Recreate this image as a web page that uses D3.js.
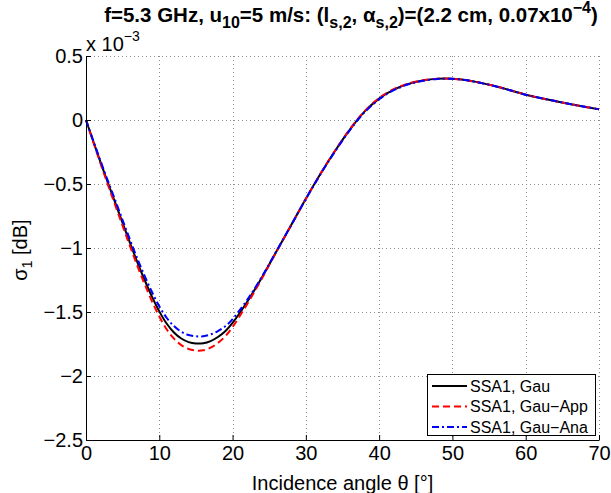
<!DOCTYPE html>
<html><head><meta charset="utf-8">
<script src="https://cdn.jsdelivr.net/npm/d3@7"></script>
<style>body{margin:0;background:#fff;} text{font-family:"Liberation Sans",Arial,Helvetica,sans-serif;}</style>
</head><body>
<script>
const theta = [0,1,2,3,4,5,6,7,8,9,10,11,12,13,14,15,16,17,18,19,20,22,24,26,28,30,32,34,36,38,40,42,44,46,48,50,52,54,56,58,60,62,64,66,68,70];
const gau = [0,-0.168,-0.333,-0.492,-0.648,-0.805,-0.96,-1.11,-1.25,-1.38,-1.495,-1.59,-1.66,-1.707,-1.735,-1.746,-1.744,-1.727,-1.695,-1.65,-1.585,-1.42,-1.23,-1.025,-0.82,-0.615,-0.42,-0.24,-0.075,0.065,0.167,0.237,0.282,0.309,0.322,0.322,0.31,0.288,0.262,0.23,0.198,0.172,0.148,0.125,0.104,0.083];
const gauApp = [0,-0.173,-0.343,-0.507,-0.668,-0.827,-0.985,-1.138,-1.282,-1.416,-1.535,-1.635,-1.708,-1.759,-1.789,-1.801,-1.799,-1.779,-1.742,-1.69,-1.617,-1.438,-1.238,-1.028,-0.822,-0.616,-0.419,-0.238,-0.072,0.068,0.171,0.241,0.285,0.311,0.323,0.322,0.31,0.288,0.262,0.23,0.198,0.172,0.148,0.125,0.104,0.083];
const gauAna = [0,-0.163,-0.323,-0.477,-0.628,-0.783,-0.935,-1.082,-1.218,-1.344,-1.455,-1.545,-1.61,-1.654,-1.68,-1.69,-1.689,-1.675,-1.649,-1.612,-1.555,-1.405,-1.224,-1.023,-0.821,-0.617,-0.423,-0.244,-0.08,0.06,0.162,0.233,0.279,0.307,0.321,0.322,0.31,0.288,0.262,0.23,0.198,0.172,0.148,0.125,0.104,0.083];
const seriesNames = ["SSA1, Gau","SSA1, Gau\u2212App","SSA1, Gau\u2212Ana"];
const xTicks = [0,10,20,30,40,50,60,70];
const yTicks = [0.5,0,-0.5,-1,-1.5,-2,-2.5];
const yTickLabels = ["0.5","0","\u22120.5","\u22121","\u22121.5","\u22122","\u22122.5"];

const W=611,H=493;
const L=86,R=599,T=56,B=440;
const svg=d3.select("body").append("svg").attr("width",W).attr("height",H);
svg.append("rect").attr("width",W).attr("height",H).attr("fill","#fff");
const x=d3.scaleLinear().domain([0,70]).range([L,R]);
const y=d3.scaleLinear().domain([-2.5,0.5]).range([B,T]);

// grid
const grid=svg.append("g").attr("stroke","#8c8c8c").attr("stroke-width",1).attr("stroke-dasharray","1,3");
xTicks.forEach(t=>grid.append("line").attr("x1",Math.round(x(t))+0.5).attr("x2",Math.round(x(t))+0.5).attr("y1",T).attr("y2",B));
yTicks.forEach(t=>grid.append("line").attr("y1",Math.round(y(t))+0.5).attr("y2",Math.round(y(t))+0.5).attr("x1",L).attr("x2",R));

// curves
const pts=(arr)=>theta.map((t,i)=>[t,arr[i]]);
const line=d3.line().x(d=>x(d[0])).y(d=>y(d[1])).curve(d3.curveCatmullRom);
const styles=[{c:"#000",d:null},{c:"#ff0000",d:"7,4"},{c:"#0000ff",d:"7,3,2,3"}];
[gau,gauApp,gauAna].forEach((arr,i)=>{
  svg.append("path").attr("d",line(pts(arr))).attr("fill","none").attr("stroke",styles[i].c)
    .attr("stroke-width",2).attr("stroke-dasharray",styles[i].d);
});

// axes
const fs=20;
const xa=svg.append("g").attr("transform",`translate(0,${B})`)
  .call(d3.axisBottom(x).tickValues(xTicks).tickSizeInner(-5).tickSizeOuter(0).tickPadding(6).tickFormat(d3.format("d")));
const ya=svg.append("g").attr("transform",`translate(${L},0)`)
  .call(d3.axisLeft(y).tickValues(yTicks).tickSizeInner(-5).tickSizeOuter(0).tickPadding(3).tickFormat((d,i)=>yTickLabels[i]));
[xa,ya].forEach(a=>{
  a.selectAll("text").attr("font-size",fs).attr("fill","#000").attr("font-family","Liberation Sans, Arial, sans-serif");
  a.select(".domain").attr("stroke","#000").attr("stroke-width",1);
  a.selectAll(".tick line").attr("stroke","#000");
});

// axis labels
svg.append("text").attr("x",(L+R)/2).attr("y",490).attr("text-anchor","middle").attr("font-size",fs)
  .text("Incidence angle \u03b8 [\u00b0]");
const yl=svg.append("text").attr("transform","translate(27,250) rotate(-90)").attr("text-anchor","middle").attr("font-size",fs);
yl.append("tspan").text("\u03c3");
yl.append("tspan").attr("font-size",14).attr("dy",5).text("1");
yl.append("tspan").attr("dy",-5).text(" [dB]");

// exponent label
const ex=svg.append("text").attr("x",86).attr("y",51).attr("font-size",fs);
ex.append("tspan").text("x 10");
ex.append("tspan").attr("font-size",14).attr("dy",-10).text("\u22123");

// title
const ti=svg.append("text").attr("x",351).attr("y",22).attr("text-anchor","middle").attr("font-size",20.5).attr("font-weight","bold");
const parts=[["f=5.3 GHz, u",0],["10",1],["=5 m/s: (l",0],["s,2",1],[", \u03b1",0],["s,2",1],[")=(2.2 cm, 0.07x10",0],["\u22124",2],[")",0]];
let cur=0;
parts.forEach(([t,k])=>{
  const target=k===1?6:(k===2?-9:0);
  ti.append("tspan").attr("dy",target-cur).attr("font-size",k?16:20.5).text(t);
  cur=target;
});

// legend
const lg=svg.append("g");
lg.append("rect").attr("x",427.5).attr("y",374.5).attr("width",168).attr("height",61).attr("fill","#fff").attr("stroke","#000").attr("stroke-width",1);
seriesNames.forEach((n,i)=>{
  const yy=386+i*20.5;
  lg.append("line").attr("x1",432).attr("x2",467).attr("y1",yy).attr("y2",yy).attr("stroke",styles[i].c).attr("stroke-width",2).attr("stroke-dasharray",styles[i].d);
  lg.append("text").attr("x",470).attr("y",yy+5.5).attr("font-size",16).text(n);
});
</script>
</body></html>
